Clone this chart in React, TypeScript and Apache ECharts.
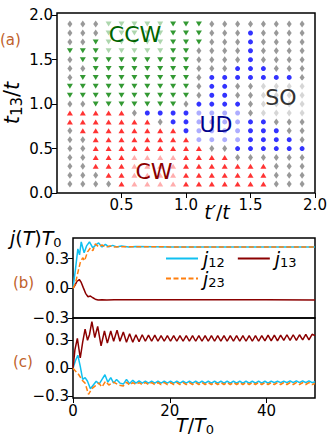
import React, { useEffect, useRef } from "react";
import * as echarts from "echarts";

// ---------- panel (a): phase diagram ----------
const tPrimeValues = [0.1, 0.2, 0.3, 0.4, 0.5, 0.6, 0.7, 0.8, 0.9, 1.0, 1.1, 1.2, 1.3, 1.4, 1.5, 1.6, 1.7, 1.8, 1.9];
const t13Values = [1.9, 1.8, 1.7, 1.6, 1.5, 1.4, 1.3, 1.2, 1.1, 1.0, 0.9, 0.8, 0.7, 0.6, 0.5, 0.4, 0.3, 0.2, 0.1];
// G = SO (gray), W = CCW (green), R = CW (red), B = UD (blue)
const phaseRows = [
  "GGGWWWWWWWWGGGGGGGG",
  "GGGWWWWWWWWGGGBGGGG",
  "GGWWWWWWWWWGGGBGGGG",
  "WWWWWWWWWWGGGGBGGGG",
  "GWWWWWWWWWGGGGBGGGG",
  "GGWWWWWWWWGGGBBBGGG",
  "GWWWWWWWWWGBBBBBBBG",
  "WWWWWWWWWWGBBGGGGGG",
  "WWWWWWWWWWGBBGGGGGG",
  "GGWWWWWWWGBBBBGGGGG",
  "RRRRRGBBBBBBBBGGGGG",
  "RRRRRRRGBBBBBBBBGGG",
  "GRRRRRRRRBBBBBBBBGG",
  "GGRRRRRRRRBBBBBBBBG",
  "GGRRRRRRRRRGGBBBBBB",
  "GGRRRRRRRRRRRGGGGGG",
  "GGRRRRRRRRRRRRRRGGG",
  "GGGRRRRRRRRRRRRRGGG",
  "GGGGRRRRRRRRRRRRGGG",
];
const xTicksA = [0.5, 1.0, 1.5, 2.0];
const yTicksA = [0.0, 0.5, 1.0, 1.5, 2.0];

// ---------- panel (b) ----------
const tB12 = [0, 0.5, 1.0, 1.35, 1.7, 2.3, 2.8, 3.4, 4.1, 4.7, 5.3, 6.0, 6.7, 7.4, 8.2, 9.0, 10.0, 11.5, 13, 20, 30, 40, 50];
const j12B = [0, 0.19, 0.40, 0.34, 0.47, 0.36, 0.43, 0.47, 0.41, 0.44, 0.46, 0.42, 0.445, 0.42, 0.435, 0.42, 0.428, 0.42, 0.423, 0.42, 0.42, 0.42, 0.418];
const tB23 = [0, 0.5, 1.0, 1.5, 2.0, 2.4, 3.0, 3.6, 4.1, 4.6, 5.3, 6.0, 6.8, 7.6, 8.5, 10, 20, 30, 40, 50];
const j23B = [0, 0.05, 0.16, 0.26, 0.31, 0.28, 0.37, 0.41, 0.38, 0.45, 0.42, 0.44, 0.415, 0.43, 0.42, 0.422, 0.42, 0.42, 0.42, 0.42];
const tB13 = [0, 0.4, 0.8, 1.3, 1.7, 2.1, 2.6, 3.1, 3.6, 4.1, 4.6, 5.2, 6.0, 7.0, 8.5, 10, 20, 30, 40, 50];
const j13B = [0, 0.03, 0.07, 0.09, 0.06, 0.01, -0.05, -0.085, -0.078, -0.095, -0.11, -0.118, -0.115, -0.117, -0.115, -0.116, -0.115, -0.115, -0.115, -0.117];

// ---------- panel (c) ----------
const tC13Early = [0, 0.4, 0.9, 1.5, 2.0, 2.5, 3.0, 3.4, 3.9, 4.5, 5.1, 5.8, 6.5, 7.1, 7.8, 8.4, 9.1, 9.7];
const j13CEarly = [0, 0.2, 0.32, 0.11, 0.28, 0.42, 0.3, 0.36, 0.5, 0.33, 0.45, 0.24, 0.4, 0.27, 0.4, 0.29, 0.41, 0.29];
const tC12Early = [0, 0.5, 1.0, 1.5, 2.0, 2.5, 3.0, 3.6, 4.2, 4.8, 5.4, 6.0, 6.6, 7.2, 7.8, 8.4, 9.0, 9.7];
const j12CEarly = [0, 0.08, 0.14, 0.02, -0.12, -0.1, -0.14, -0.22, -0.18, -0.14, -0.17, -0.12, -0.07, -0.15, -0.1, -0.16, -0.12, -0.16];
const tC23Early = [0, 0.5, 1.2, 1.9, 2.5, 3.2, 3.9, 4.6, 5.3, 6.0, 6.7, 7.4, 8.4, 9.4];
const j23CEarly = [0, -0.03, -0.07, -0.13, -0.16, -0.28, -0.22, -0.19, -0.16, -0.2, -0.14, -0.18, -0.15, -0.18];
const tCSteady = [10.4, 11.05, 11.7, 12.35, 13.0, 13.65, 14.3, 14.95, 15.6, 16.25, 16.9, 17.55, 18.2, 18.85, 19.5, 20.15, 20.8, 21.45, 22.1, 22.75, 23.4, 24.05, 24.7, 25.35, 26.0, 26.65, 27.3, 27.95, 28.6, 29.25, 29.9, 30.55, 31.2, 31.85, 32.5, 33.15, 33.8, 34.45, 35.1, 35.75, 36.4, 37.05, 37.7, 38.35, 39.0, 39.65, 40.3, 40.95, 41.6, 42.25, 42.9, 43.55, 44.2, 44.85, 45.5, 46.15, 46.8, 47.45, 48.1, 48.75, 49.4, 50.0];
const j13CSteady = [0.39, 0.28, 0.37, 0.28, 0.36, 0.285, 0.36, 0.29, 0.355, 0.29, 0.355, 0.29, 0.35, 0.29, 0.35, 0.29, 0.35, 0.29, 0.35, 0.29, 0.35, 0.29, 0.35, 0.29, 0.35, 0.29, 0.35, 0.29, 0.35, 0.29, 0.35, 0.29, 0.35, 0.29, 0.35, 0.29, 0.35, 0.29, 0.35, 0.29, 0.35, 0.29, 0.35, 0.29, 0.35, 0.295, 0.355, 0.295, 0.355, 0.295, 0.355, 0.3, 0.36, 0.3, 0.36, 0.3, 0.36, 0.305, 0.365, 0.305, 0.365, 0.35];
const j12CSteady = [-0.17, -0.12, -0.165, -0.13, -0.16, -0.135, -0.16, -0.14, -0.16, -0.14, -0.16, -0.14, -0.16, -0.14, -0.16, -0.14, -0.16, -0.14, -0.16, -0.14, -0.16, -0.14, -0.16, -0.14, -0.16, -0.14, -0.16, -0.14, -0.16, -0.14, -0.16, -0.14, -0.16, -0.14, -0.16, -0.14, -0.16, -0.14, -0.16, -0.14, -0.16, -0.14, -0.16, -0.14, -0.16, -0.14, -0.16, -0.14, -0.155, -0.14, -0.155, -0.14, -0.155, -0.135, -0.155, -0.135, -0.155, -0.135, -0.155, -0.135, -0.155, -0.145];
const j23CSteady = [-0.19, -0.15, -0.18, -0.155, -0.175, -0.155, -0.175, -0.155, -0.175, -0.155, -0.175, -0.155, -0.175, -0.155, -0.175, -0.155, -0.175, -0.155, -0.175, -0.155, -0.175, -0.155, -0.175, -0.155, -0.175, -0.155, -0.175, -0.155, -0.175, -0.155, -0.175, -0.155, -0.175, -0.155, -0.175, -0.155, -0.175, -0.155, -0.175, -0.155, -0.175, -0.155, -0.175, -0.155, -0.175, -0.155, -0.175, -0.155, -0.175, -0.155, -0.175, -0.155, -0.175, -0.155, -0.175, -0.155, -0.175, -0.155, -0.175, -0.155, -0.175, -0.165];
const yTicksBC = [-0.3, 0.0, 0.3];
const xTicksC = [0, 20, 40];

const FONT = "DejaVu Sans";
const C12 = "#10c0f0";
const C13 = "#8b0000";
const C23 = "#ff7f0e";
const LABEL_COLOR = "#c0612b";

const pairs = (t: number[], v: number[]) => t.map((x, i) => [x, v[i]]);

function phaseData(code: string) {
  const out: number[][] = [];
  phaseRows.forEach((row, i) => {
    for (let j = 0; j < row.length; j++) {
      if (row[j] === code) out.push([tPrimeValues[j], t13Values[i]]);
    }
  });
  return out;
}

const fmtSigned = (v: number) => (v < -1e-9 ? "\u2212" : "") + Math.abs(v).toFixed(1);

function mathText(x: number, y: number, text: string, align: string, rotation = 0, size = 19) {
  return {
    type: "text",
    x,
    y,
    rotation,
    z: 120,
    style: {
      text,
      align,
      verticalAlign: "middle",
      fill: "#000",
      rich: {
        i: { fontStyle: "italic", fontSize: size, fontFamily: FONT, fill: "#000" },
        n: { fontSize: size, fontFamily: FONT, fill: "#000" },
        s: { fontSize: Math.round(size * 0.7), fontFamily: FONT, fill: "#000", padding: [Math.round(size * 0.42), 0, 0, 0] },
      },
    },
  };
}

function box(x: number, y: number, w: number, h: number) {
  return {
    type: "rect",
    z: 100,
    shape: { x, y, width: w, height: h },
    style: { fill: "rgba(255,255,255,0.6)" },
  };
}

function regionLabel(x: number, y: number, text: string, color: string) {
  return {
    type: "text",
    x,
    y,
    z: 110,
    style: {
      text,
      fill: color,
      fontSize: 22,
      fontFamily: FONT,
      align: "center",
      verticalAlign: "middle",
    },
  };
}

function panelLabel(x: number, y: number, text: string) {
  return {
    type: "text",
    x,
    y,
    z: 110,
    style: {
      text,
      fill: LABEL_COLOR,
      fontSize: 15,
      fontFamily: FONT,
      align: "left",
      verticalAlign: "middle",
    },
  };
}

export default function App() {
  const ref = useRef<HTMLDivElement>(null);

  useEffect(() => {
    if (!ref.current) return;
    const chart = echarts.init(ref.current, null, { renderer: "svg" });

    const frame = { show: true, borderColor: "#000", borderWidth: 1.5, backgroundColor: "transparent" };
    const tick = (values: number[]) => ({
      show: true,
      inside: false,
      length: 5,
      lineStyle: { color: "#000", width: 1 },
      customValues: values,
    });
    const label = (values: number[], fmt: (v: number) => string, margin = 4) => ({
      show: true,
      customValues: values,
      formatter: fmt,
      color: "#000",
      fontSize: 15,
      fontFamily: FONT,
      margin,
    });
    const noLine = { show: false, onZero: false };

    const lineSeries = (name: string, axis: number, data: number[][], color: string, dashed = false) => ({
      name,
      type: "line",
      xAxisIndex: axis,
      yAxisIndex: axis,
      data,
      symbol: "none",
      showSymbol: false,
      silent: true,
      lineStyle: { color, width: 1.5, type: dashed ? [5, 2.5] : "solid" },
      itemStyle: { color },
    });

    const legendText = {
      fontSize: 19,
      fontFamily: FONT,
      color: "#000",
      rich: {
        i: { fontStyle: "italic", fontSize: 19, fontFamily: FONT, color: "#000" },
        s: { fontSize: 13, fontFamily: FONT, color: "#000", padding: [8, 0, 0, 0] },
      },
    };
    const legendFmt = (name: string) => `{i|j}{s|${name.slice(1)}}`;
    const legendCommon = {
      itemWidth: 32,
      itemHeight: 12,
      itemGap: 12,
      padding: 0,
      formatter: legendFmt,
      textStyle: legendText,
      selectedMode: false,
      itemStyle: { opacity: 0, borderWidth: 0 },
    };

    const option: any = {
      animation: false,
      backgroundColor: "#fff",
      textStyle: { fontFamily: FONT },
      grid: [
        { left: 57, top: 13, width: 258, height: 180, ...frame },
        { left: 73, top: 238, width: 242, height: 80, ...frame },
        { left: 73, top: 318, width: 242, height: 80, ...frame },
      ],
      xAxis: [
        {
          type: "value", gridIndex: 0, min: 0, max: 2,
          axisLine: noLine, splitLine: { show: false },
          axisTick: tick(xTicksA), axisLabel: label(xTicksA, (v) => v.toFixed(1), 4),
        },
        {
          type: "value", gridIndex: 1, min: 0, max: 50,
          axisLine: noLine, splitLine: { show: false },
          axisTick: { show: false }, axisLabel: { show: false },
        },
        {
          type: "value", gridIndex: 2, min: 0, max: 50,
          axisLine: noLine, splitLine: { show: false },
          axisTick: tick(xTicksC), axisLabel: label(xTicksC, (v) => String(v), 5),
        },
      ],
      yAxis: [
        {
          type: "value", gridIndex: 0, min: 0, max: 2.025,
          axisLine: noLine, splitLine: { show: false },
          axisTick: tick(yTicksA), axisLabel: label(yTicksA, (v) => v.toFixed(1), 4),
        },
        {
          type: "value", gridIndex: 1, min: -0.3, max: 0.51,
          axisLine: noLine, splitLine: { show: false },
          axisTick: tick(yTicksBC), axisLabel: label(yTicksBC, fmtSigned, 4),
        },
        {
          type: "value", gridIndex: 2, min: -0.32, max: 0.54,
          axisLine: noLine, splitLine: { show: false },
          axisTick: tick(yTicksBC), axisLabel: label(yTicksBC, fmtSigned, 4),
        },
      ],
      legend: [
        { data: ["j12", "j13"], left: 165, top: 249, ...legendCommon },
        { data: ["j23"], left: 165, top: 269, ...legendCommon },
      ],
      series: [
        {
          type: "scatter", xAxisIndex: 0, yAxisIndex: 0, silent: true,
          data: phaseData("G"), symbol: "diamond", symbolSize: [5, 7],
          itemStyle: { color: "#808080" },
        },
        {
          type: "scatter", xAxisIndex: 0, yAxisIndex: 0, silent: true,
          data: phaseData("W"), symbol: "triangle", symbolRotate: 180, symbolSize: [6, 5],
          itemStyle: { color: "#008000" },
        },
        {
          type: "scatter", xAxisIndex: 0, yAxisIndex: 0, silent: true,
          data: phaseData("R"), symbol: "triangle", symbolSize: [6, 5],
          itemStyle: { color: "#ff0000" },
        },
        {
          type: "scatter", xAxisIndex: 0, yAxisIndex: 0, silent: true,
          data: phaseData("B"), symbol: "circle", symbolSize: 5,
          itemStyle: { color: "#0000ff" },
        },
        lineSeries("j12", 1, pairs(tB12, j12B), C12),
        lineSeries("j13", 1, pairs(tB13, j13B), C13),
        lineSeries("j23", 1, pairs(tB23, j23B), C23, true),
        lineSeries("j12", 2, pairs(tC12Early, j12CEarly).concat(pairs(tCSteady, j12CSteady)), C12),
        lineSeries("j13", 2, pairs(tC13Early, j13CEarly).concat(pairs(tCSteady, j13CSteady)), C13),
        lineSeries("j23", 2, pairs(tC23Early, j23CEarly).concat(pairs(tCSteady, j23CSteady)), C23, true),
      ],
      graphic: [
        box(102, 16, 65, 39),
        box(129, 152, 50, 38),
        box(193, 107, 50, 37),
        box(256, 80, 50, 37),
        regionLabel(135, 34, "CCW", "#006400"),
        regionLabel(154, 171.5, "CW", "#8b0000"),
        regionLabel(216, 124, "UD", "#00008b"),
        regionLabel(281, 97, "SO", "#333333"),
        panelLabel(0, 40, "(a)"),
        panelLabel(13, 283, "(b)"),
        panelLabel(13, 362, "(c)"),
        mathText(12, 103, "{i|t}{s|13}{n|/}{i|t}", "center", Math.PI / 2, 21),
        mathText(217, 212, "{i|t\u2032}{n|/}{i|t}", "center"),
        mathText(10, 238, "{i|j}{n|(}{i|T}{n|)}{i|T}{s|0}", "left"),
        mathText(195, 425, "{i|T}{n|/}{i|T}{s|0}", "center"),
      ],
    };

    chart.setOption(option);
    return () => chart.dispose();
  }, []);

  return (
    <div
      ref={ref}
      style={{ position: "absolute", left: 0, top: 0, width: 332, height: 443 }}
    />
  );
}
